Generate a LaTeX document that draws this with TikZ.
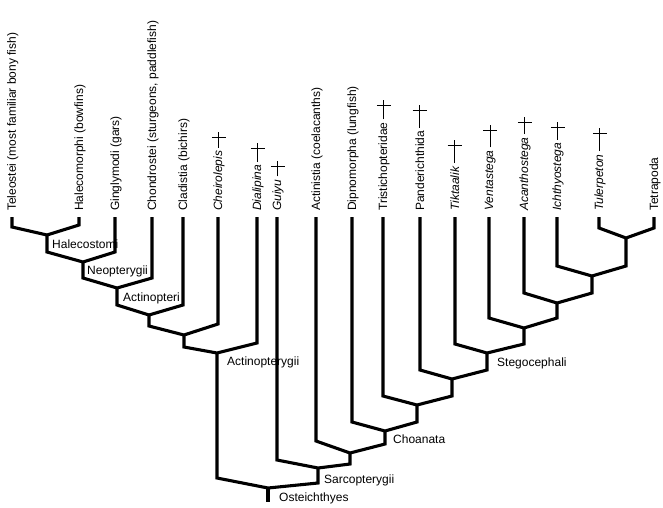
\documentclass[tikz,border=0pt]{standalone}
\usepackage{fontspec}
\setmainfont{Liberation Sans}
\newcommand{\lblfont}{\fontsize{12}{14}\selectfont}
% dagger for an extinct taxon: label node, top of the mark
\newcommand{\extinct}[2]{%
  \path (0,#2) coordinate (dtop);
  \draw[dagger] ([yshift=3pt]#1.east) -- (#1.east |- dtop) ++(-7,5) -- ++(14,0);
}
\begin{document}
\begin{tikzpicture}[x=1pt,y=-1pt,
    branch/.style={line width=3.1pt, line join=miter},
    leaf/.style={rotate=90, anchor=base west, inner sep=0pt, font=\lblfont},
    clade/.style={anchor=base west, inner sep=0pt, font=\lblfont},
    dagger/.style={line width=1pt}]
  \useasboundingbox (0,0) rectangle (663,507);
  % taxa
  \draw
    (16,211) node[leaf] (teleo) {Teleostei (most familiar bony fish)}
    (83,211) node[leaf] (halecom) {Halecomorphi (bowfins)}
    (119,211) node[leaf] (gingly) {Ginglymodi (gars)}
    (156,211) node[leaf] (chondro) {Chondrostei (sturgeons, paddlefish)}
    (187,211) node[leaf] (cladis) {Cladistia (bichirs)}
    (222,211) node[leaf] (cheiro) {\textit{Cheirolepis}}
    (261,211) node[leaf] (diali) {\textit{Dialipina}}
    (281,211) node[leaf] (guiyu) {\textit{Guiyu}}
    (320,211) node[leaf] (actinis) {Actinistia (coelacanths)}
    (356,211) node[leaf] (dipno) {Dipnomorpha (lungfish)}
    (387,211) node[leaf] (tristi) {Tristichopteridae}
    (424,211) node[leaf] (pander) {Panderichthida}
    (459,211) node[leaf] (tiktaalik) {\textit{Tiktaalik}}
    (493,211) node[leaf] (ventas) {\textit{Ventastega}}
    (528,211) node[leaf] (acanth) {\textit{Acanthostega}}
    (561,211) node[leaf] (ichthyo) {\textit{Ichthyostega}}
    (603,211) node[leaf] (tulerp) {\textit{Tulerpeton}}
    (658,211) node[leaf] (tetrap) {Tetrapoda};
  % tips of the leaf lines
  \coordinate (teleo-t) at (12,217);     \coordinate (teleo-b) at (12,227);
  \coordinate (halecom-t) at (79,217);   \coordinate (halecom-b) at (79,225);
  \coordinate (gingly-t) at (115,217);   \coordinate (gingly-b) at (115,252);
  \coordinate (chondro-t) at (152,217);  \coordinate (chondro-b) at (152,278);
  \coordinate (cladis-t) at (183,217);   \coordinate (cladis-b) at (183,305);
  \coordinate (cheiro-t) at (218,217);   \coordinate (cheiro-b) at (218,324);
  \coordinate (diali-t) at (257,217);    \coordinate (diali-b) at (257,343);
  \coordinate (guiyu-t) at (277,217);    \coordinate (guiyu-b) at (277,460);
  \coordinate (actinis-t) at (316,217);  \coordinate (actinis-b) at (316,441);
  \coordinate (dipno-t) at (352,217);    \coordinate (dipno-b) at (352,422);
  \coordinate (tristi-t) at (383,217);   \coordinate (tristi-b) at (383,396);
  \coordinate (pander-t) at (420,217);   \coordinate (pander-b) at (420,370);
  \coordinate (tiktaalik-t) at (455,217);\coordinate (tiktaalik-b) at (455,344);
  \coordinate (ventas-t) at (489,217);   \coordinate (ventas-b) at (489,318);
  \coordinate (acanth-t) at (524,217);   \coordinate (acanth-b) at (524,293);
  \coordinate (ichthyo-t) at (557,217);  \coordinate (ichthyo-b) at (557,266);
  \coordinate (tulerp-t) at (599,217);   \coordinate (tulerp-b) at (599,228);
  \coordinate (tetrap-t) at (654,217);   \coordinate (tetrap-b) at (654,228);
  % branching points
  \coordinate (halecostomi) at (47,235);     \coordinate (halecostomi-b) at (47,252);
  \coordinate (neopterygii) at (83,262);     \coordinate (neopterygii-b) at (83,278);
  \coordinate (actinopteri) at (117,288);    \coordinate (actinopteri-b) at (117,305);
  \coordinate (ja) at (149,315);             \coordinate (ja-b) at (149,326);
  \coordinate (jb) at (184,335);             \coordinate (jb-b) at (184,347);
  \coordinate (actinopterygii) at (217,353); \coordinate (actinopterygii-b) at (217,478);
  \coordinate (jc) at (626,238);             \coordinate (jc-b) at (626,266);
  \coordinate (jd) at (592,276);             \coordinate (jd-b) at (592,293);
  \coordinate (je) at (557,303);             \coordinate (je-b) at (557,318);
  \coordinate (jf) at (524,328);             \coordinate (jf-b) at (524,344);
  \coordinate (stegocephali) at (487,353);   \coordinate (stegocephali-b) at (487,370);
  \coordinate (jg) at (452,379);             \coordinate (jg-b) at (452,396);
  \coordinate (jh) at (417,405);             \coordinate (jh-b) at (417,422);
  \coordinate (choanata) at (385,431);       \coordinate (choanata-b) at (385,444);
  \coordinate (ji) at (350,453);             \coordinate (ji-b) at (350,464);
  \coordinate (sarcopterygii) at (318,468);  \coordinate (sarcopterygii-b) at (318,483);
  \coordinate (osteichthyes) at (268,488);   \coordinate (osteichthyes-b) at (268,502);
  % clade names
  \node[clade] (halecostomi-l) at (52,248) {Halecostomi};
  \node[clade] (neopterygii-l) at (87,274) {Neopterygii};
  \node[clade] (actinopteri-l) at (123,301) {Actinopteri};
  \node[clade] (actinopterygii-l) at (227,365) {Actinopterygii};
  \node[clade] (stegocephali-l) at (497,366) {Stegocephali};
  \node[clade] (choanata-l) at (393,443) {Choanata};
  \node[clade] (sarcopterygii-l) at (324,483) {Sarcopterygii};
  \node[clade] (osteichthyes-l) at (279,501) {Osteichthyes};
  \begin{scope}[branch]
    \draw (teleo-t) -- (teleo-b) -- (halecostomi) -- (halecom-b) -- (halecom-t);
    \draw (halecostomi) -- (halecostomi-b) -- (neopterygii) -- (gingly-b) -- (gingly-t);
    \draw (neopterygii) -- (neopterygii-b) -- (actinopteri) -- (chondro-b) -- (chondro-t);
    \draw (actinopteri) -- (actinopteri-b) -- (ja) -- (cladis-b) -- (cladis-t);
    \draw (ja) -- (ja-b) -- (jb) -- (cheiro-b) -- (cheiro-t);
    \draw (jb) -- (jb-b) -- (actinopterygii) -- (diali-b) -- (diali-t);
    \draw (tulerp-t) -- (tulerp-b) -- (jc) -- (tetrap-b) -- (tetrap-t);
    \draw (ichthyo-t) -- (ichthyo-b) -- (jd) -- (jc-b) -- (jc);
    \draw (acanth-t) -- (acanth-b) -- (je) -- (jd-b) -- (jd);
    \draw (ventas-t) -- (ventas-b) -- (jf) -- (je-b) -- (je);
    \draw (tiktaalik-t) -- (tiktaalik-b) -- (stegocephali) -- (jf-b) -- (jf);
    \draw (pander-t) -- (pander-b) -- (jg) -- (stegocephali-b) -- (stegocephali);
    \draw (tristi-t) -- (tristi-b) -- (jh) -- (jg-b) -- (jg);
    \draw (dipno-t) -- (dipno-b) -- (choanata) -- (jh-b) -- (jh);
    \draw (actinis-t) -- (actinis-b) -- (ji) -- (choanata-b) -- (choanata);
    \draw (guiyu-t) -- (guiyu-b) -- (sarcopterygii) -- (ji-b) -- (ji);
    \draw (actinopterygii) -- (actinopterygii-b) -- (osteichthyes) -- (sarcopterygii-b) -- (sarcopterygii);
    \draw (osteichthyes) -- (osteichthyes-b);
  \end{scope}
  % extinct taxa
  \extinct{cheiro}{132}
  \extinct{diali}{143}
  \extinct{guiyu}{161}
  \extinct{tristi}{100}
  \extinct{pander}{105}
  \extinct{tiktaalik}{140}
  \extinct{ventas}{125}
  \extinct{acanth}{117}
  \extinct{ichthyo}{122}
  \extinct{tulerp}{128}
\end{tikzpicture}
\end{document}
